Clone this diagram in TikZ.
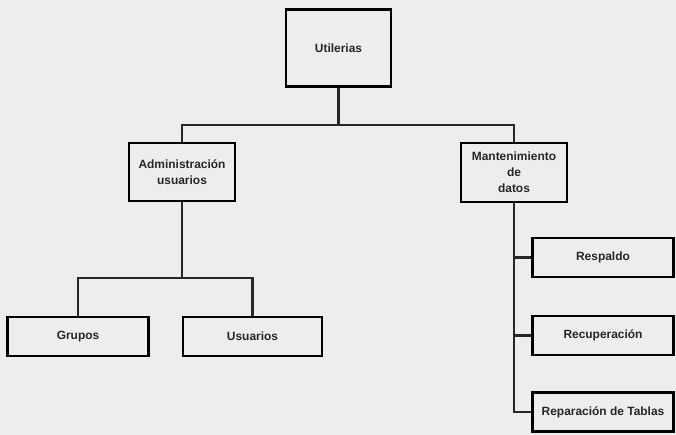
\documentclass[tikz,border=0pt]{standalone}
\usepackage{fontspec}
\setmainfont{Liberation Sans}
\usepackage{tikz}

\begin{document}
\begin{tikzpicture}[x=0.02cm, y=-0.02cm,
    bloque/.style ={rectangle, draw, line width=1.2pt, align=center, inner sep=1pt,
      font=\fontsize{6.8}{9}\selectfont\bfseries, text=black!85},
    linea/.style ={line width=1.2pt, draw=black!85}]
   \useasboundingbox[fill=black!7] (0,0) rectangle (676,435);

   \node[bloque, minimum width=2.1cm, minimum height=1.54cm] (U) at (338.5,48) {Utilerias};
   \node[bloque, minimum width=2.12cm, minimum height=1.16cm] (A) at (182,172) {Administración\\usuarios};
   \node[bloque, minimum width=2.12cm, minimum height=1.18cm] (M) at (514,172.5) {Mantenimiento\\de\\datos};
   \node[bloque, minimum width=2.82cm, minimum height=0.78cm] (G) at (78,336.5) {Grupos};
   \node[bloque, minimum width=2.78cm, minimum height=0.78cm] (S) at (252.5,336.5) {Usuarios};
   \node[bloque, minimum width=2.82cm, minimum height=0.78cm] (R) at (603,257.5) {Respaldo};
   \node[bloque, minimum width=2.82cm, minimum height=0.78cm] (C) at (603,335.5) {Recuperación};
   \node[bloque, minimum width=2.82cm, minimum height=0.78cm] (T) at (603,412) {Reparación de Tablas};

   \coordinate (B0) at (338.5,125);
   \coordinate (B1) at (182,278);

   \draw[linea] (U) to (B0);
   \draw[linea] (B0) -| (A);
   \draw[linea] (B0) -| (M);
   \draw[linea] (A) to (B1);
   \draw[linea] (B1) -| (G);
   \draw[linea] (B1) -| (S);
   \draw[linea] (M) |- (R);
   \draw[linea] (M) |- (C);
   \draw[linea] (M) |- (T);
 \end{tikzpicture}
\end{document}
